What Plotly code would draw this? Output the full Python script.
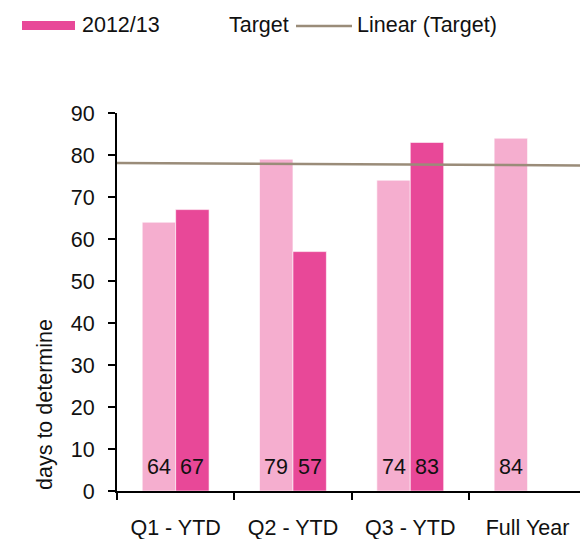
import numpy as np
import plotly.graph_objects as go

# Data
categories = ["Q1 - YTD", "Q2 - YTD", "Q3 - YTD", "Full Year"]
prior_year = [64, 79, 74, 84]          # light bars
current_year = [67, 57, 83, None]      # 2012/13
target = [78.0, 77.9, 77.7, 77.6]      # target series (shown only as its linear trend)
y_ticks = [0, 10, 20, 30, 40, 50, 60, 70, 80, 90]

LIGHT = "#F5AECF"
DARK = "#E84898"
TREND = "#9A8C79"
FONT = "Liberation Sans, Arial, sans-serif"
FS = 21.5

W, H = 580, 539
ML, MR, MT, MB = 117, 0, 113, 48
PW, PH = W - ML - MR, H - MT - MB
X_RANGE = [-0.5, 3.447]


def px_x(px):
    return (px - ML) / PW


def px_y(py):
    return (H - MB - py) / PH


def label(x, y, text, xanchor="left", **kw):
    fig.add_annotation(x=px_x(x), y=px_y(y), xref="paper", yref="paper",
                       text=text, showarrow=False, xanchor=xanchor,
                       yanchor="middle", font=dict(family=FONT, size=FS, color="#111"),
                       **kw)


fig = go.Figure()

fig.add_trace(go.Bar(x=categories, y=prior_year, marker_color=LIGHT,
                     marker_line=dict(color="rgba(255,255,255,0.6)", width=1),
                     showlegend=False))
fig.add_trace(go.Bar(x=categories, y=current_year, marker_color=DARK,
                     marker_line=dict(color="rgba(255,255,255,0.6)", width=1),
                     showlegend=False))

# Linear trend of the target series, extended across the plot
xi = np.arange(len(target))
slope, intercept = np.polyfit(xi, target, 1)
tx = np.array(X_RANGE)
fig.add_trace(go.Scatter(x=tx, y=slope * tx + intercept, xaxis="x2", mode="lines",
                         line=dict(color=TREND, width=2.5), showlegend=False))

# Value labels near the bar bases
bar_w = PW / (X_RANGE[1] - X_RANGE[0]) * (1 - 0.43) / 2
for cat, a, b in zip(categories, prior_year, current_year):
    for val, shift in ((a, -bar_w / 2), (b, bar_w / 2)):
        if val is None:
            continue
        fig.add_annotation(x=cat, y=5.7, xref="x", yref="y", text=str(val),
                           showarrow=False, xshift=shift, yanchor="middle",
                           font=dict(family=FONT, size=FS, color="#111"))

# Axis title
label(45, 405, "days to determine", xanchor="center", textangle=-90)

# Legend
fig.add_shape(type="rect", xref="paper", yref="paper",
              x0=px_x(22), x1=px_x(75), y0=px_y(30), y1=px_y(21),
              fillcolor=DARK, line_width=0)
label(80, 25, "2012/13")
label(227, 25, "Target")
fig.add_shape(type="line", xref="paper", yref="paper",
              x0=px_x(296), x1=px_x(352), y0=px_y(26), y1=px_y(26),
              line=dict(color=TREND, width=2.5))
label(355, 25, "Linear (Target)")

fig.update_layout(
    width=W, height=H,
    margin=dict(l=ML, r=MR, t=MT, b=MB),
    paper_bgcolor="white", plot_bgcolor="white",
    barmode="group", bargap=0.43, bargroupgap=0,
    font=dict(family=FONT, size=FS, color="#111"),
    xaxis=dict(type="category", range=X_RANGE, tickson="boundaries",
               ticks="outside", ticklen=7, tickwidth=2, tickcolor="black",
               showline=True, linecolor="black", linewidth=2,
               showgrid=False, zeroline=False, ticklabelstandoff=16,
               tickfont=dict(family=FONT, size=FS, color="#111")),
    xaxis2=dict(overlaying="x", anchor="y", range=X_RANGE, visible=False),
    yaxis=dict(range=[0, 90], tickvals=y_ticks, ticks="outside", ticklen=7,
               tickwidth=2, tickcolor="black", showline=True, linecolor="black",
               linewidth=2, showgrid=False, zeroline=False, ticklabelstandoff=9,
               tickfont=dict(family=FONT, size=FS, color="#111")),
)

fig.write_html("out.html")
